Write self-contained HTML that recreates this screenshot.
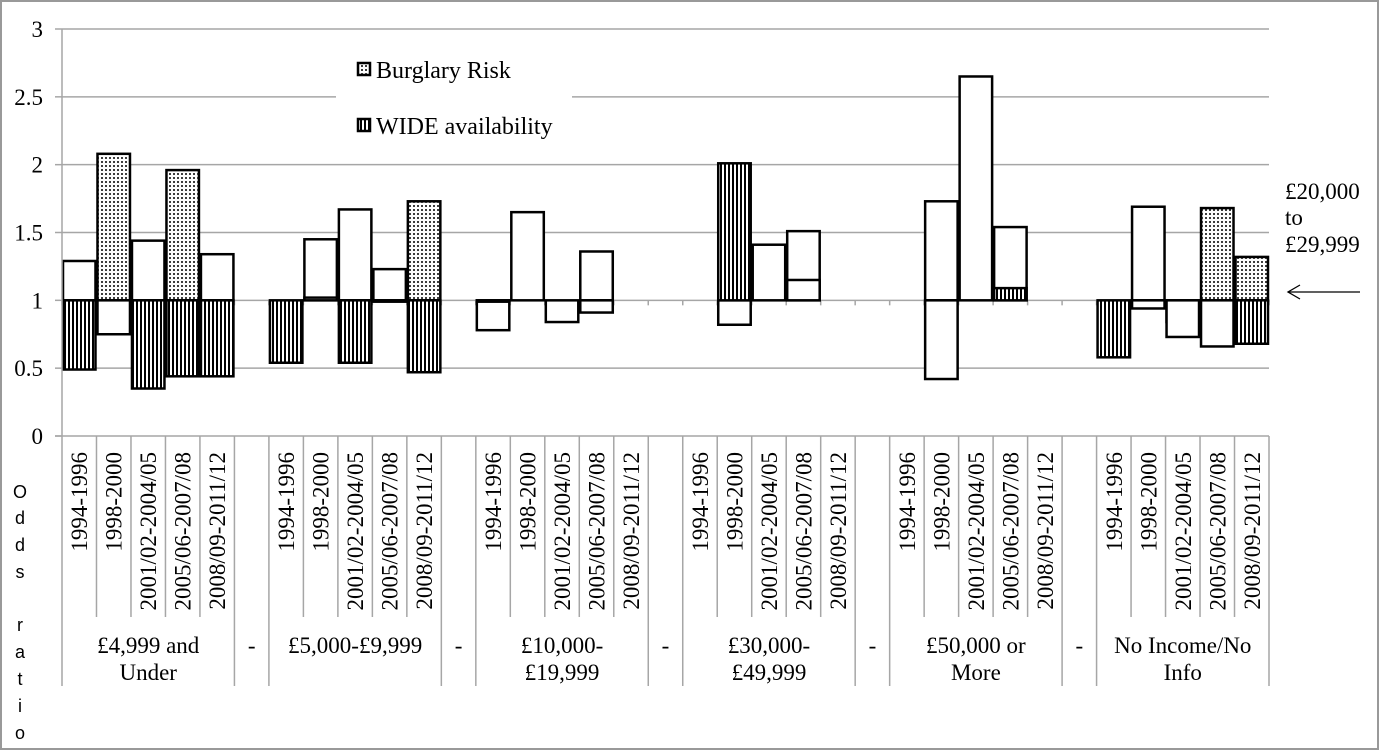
<!DOCTYPE html>
<html><head><meta charset="utf-8"><style>
html,body{margin:0;padding:0;background:#fff;}
svg{display:block;font-family:"Liberation Serif",serif;}
</style></head><body>
<svg id="chart" width="1379" height="750" xmlns="http://www.w3.org/2000/svg">
<defs>
<pattern id="dots" width="4" height="4" patternUnits="userSpaceOnUse"><rect width="4" height="4" fill="#fff"/><circle cx="2" cy="2" r="1" fill="#000"/></pattern>
<pattern id="vstripes" width="4" height="4" patternUnits="userSpaceOnUse"><rect width="4" height="4" fill="#fff"/><rect width="2" height="4" fill="#000"/></pattern>
</defs>
<rect x="1" y="1" width="1377" height="748" fill="#fff" stroke="#999" stroke-width="2"/>
<g id="grid"></g><g id="bars"></g><g id="axes"></g>
<g>
<rect x="336" y="50" width="236" height="100" fill="#fff"/>
<g><rect x="358" y="63" width="12" height="12" fill="url(#dots)" stroke="#000" stroke-width="2.5"/><text x="376" y="78" font-size="24">Burglary Risk</text></g>
<g><rect x="358" y="119" width="12" height="12" fill="url(#vstripes)" stroke="#000" stroke-width="2.5"/><text x="376" y="134" font-size="24">WIDE availability</text></g>
</g>
<g>
<text x="1285" y="199" font-size="23">£20,000</text><text x="1285" y="225" font-size="23">to</text><text x="1285" y="252" font-size="23">£29,999</text>
<line x1="1360" y1="292" x2="1288" y2="292" stroke="#000" stroke-width="1.3"/><path d="M1300,285 L1288,292 L1300,299" fill="none" stroke="#000" stroke-width="1.3"/>
</g>
<g font-family="Liberation Sans, sans-serif" font-size="18" text-anchor="middle">
<text x="20" y="498">O</text><text x="20" y="524">d</text><text x="20" y="551">d</text><text x="20" y="578">s</text><text x="20" y="631">r</text><text x="20" y="658">a</text><text x="20" y="685">t</text><text x="20" y="712">i</text><text x="20" y="739">o</text>
</g>
</svg>
<script>
const groups = ["£4,999 and|Under","£5,000-£9,999","£10,000-|£19,999","£30,000-|£49,999","£50,000 or|More","No Income/No|Info"];
const periods = ["1994-1996","1998-2000","2001/02-2004/05","2005/06-2007/08","2008/09-2011/12"];
const yTicks = [0,0.5,1,1.5,2,2.5,3];
// per group, 5 periods each
const burglary = [1.29,2.08,1.44,1.96,1.34, 1.00,1.45,1.67,1.23,1.73, 0.78,1.65,0.84,1.36,1.00, 1.00,0.82,1.41,1.51,1.00, 1.00,1.73,2.65,1.54,1.00, 1.00,1.69,0.84,1.68,1.32];
const burglarySig = [0,1,0,1,0, 0,0,0,0,1, 0,0,0,0,0, 0,0,0,0,0, 0,0,0,0,0, 0,0,0,1,1];
const wide = [0.49,0.75,0.35,0.44,0.44, 0.54,1.02,0.54,0.99,0.47, 0.99,1.00,1.00,0.91,1.00, 1.00,2.01,1.00,1.15,1.00, 1.00,0.42,1.00,1.09,1.00, 0.58,0.94,0.73,0.66,0.68];
const wideSig = [1,0,1,1,1, 1,0,1,0,1, 0,0,0,0,0, 0,1,0,0,0, 0,0,0,1,0, 1,0,0,0,1];

const NS="http://www.w3.org/2000/svg";
const X0=62,X1=1269,Y0=436,Y3=29;
const nSlots=groups.length*periods.length+groups.length-1;
const slot=(X1-X0)/nSlots;
const y=v=>Y0-(v/3)*(Y0-Y3);
const slotX=(g,p)=>X0+(g*(periods.length+1)+p)*slot;
function el(tag,attrs,parent){const e=document.createElementNS(NS,tag);for(const k in attrs)e.setAttribute(k,attrs[k]);parent.appendChild(e);return e;}
const grid=document.getElementById('grid'),bars=document.getElementById('bars'),axes=document.getElementById('axes');
yTicks.forEach(t=>{
  if(t!==0&&t!==1){const l=el('line',{x1:X0,x2:X1,y1:y(t),y2:y(t),stroke:'#a6a6a6','stroke-width':1.5},grid);
  
  }
  el('line',{x1:55,x2:X0,y1:y(t),y2:y(t),stroke:'#a6a6a6','stroke-width':1.5},axes);
  const tx=el('text',{x:43,y:y(t)+8,'font-size':23,'text-anchor':'end'},axes);tx.textContent=t;
  
  
});
el('line',{x1:X0,x2:X0,y1:Y3,y2:Y0,stroke:'#a6a6a6','stroke-width':1.5},axes);
el('line',{x1:55,x2:X1,y1:Y0,y2:Y0,stroke:'#a6a6a6','stroke-width':1.5},axes);
const base=el('line',{x1:X0,x2:X1,y1:y(1),y2:y(1),stroke:'#a6a6a6','stroke-width':1.5},grid);


for(let s=0;s<=nSlots;s++){el('line',{x1:X0+s*slot,x2:X0+s*slot,y1:y(1),y2:y(1)+5,stroke:'#a6a6a6','stroke-width':1.5},grid);}
function bar(v,sig,pat,x){
  if(Math.abs(v-1)<0.005)return;
  const top=Math.min(y(v),y(1)),h=Math.abs(y(v)-y(1));
  return el('rect',{x:x+1,y:top,width:slot-2,height:h,fill:sig?pat:'#fff',stroke:'#000','stroke-width':2.5},bars);
}
groups.forEach((g,gi)=>{
  periods.forEach((p,pi)=>{
    const i=gi*periods.length+pi,x=slotX(gi,pi);
    const b=bar(burglary[i],burglarySig[i],'url(#dots)',x);
    if(b){
    }
    const w=bar(wide[i],wideSig[i],'url(#vstripes)',x);
    if(w){
    }
    const t=el('text',{x:0,y:0,'font-size':23,'text-anchor':'end',transform:`translate(${x+slot/2+8},452) rotate(-90)`},axes);
    t.textContent=p;
    
    
    if(pi>0)el('line',{x1:x,x2:x,y1:Y0,y2:617,stroke:'#a6a6a6','stroke-width':1.5},axes);
  });
  const gx=slotX(gi,0),gw=slot*periods.length;
  el('line',{x1:gx,x2:gx,y1:Y0,y2:686,stroke:'#a6a6a6','stroke-width':1.5},axes);
  el('line',{x1:gx+gw,x2:gx+gw,y1:Y0,y2:686,stroke:'#a6a6a6','stroke-width':1.5},axes);
  const lines=g.split('|');
  lines.forEach((ln,li)=>{const t=el('text',{x:gx+gw/2,y:653+li*27,'font-size':23,'text-anchor':'middle'},axes);t.textContent=ln;
  
  });
  if(gi<groups.length-1){const d=el('text',{x:gx+gw+slot/2,y:653,'font-size':23,'text-anchor':'middle'},axes);d.textContent='-';
  
  }
});
</script>
</body></html>
